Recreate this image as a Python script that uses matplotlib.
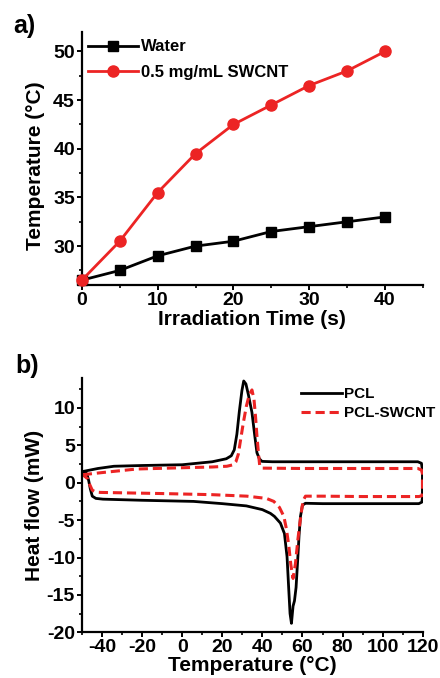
import numpy as np
import matplotlib
matplotlib.use("Agg")
import matplotlib.pyplot as plt
from matplotlib.ticker import MultipleLocator

plt.rcParams['font.family'] = ['Liberation Sans', 'DejaVu Sans']
plt.rcParams['font.weight'] = 'bold'
plt.rcParams['axes.unicode_minus'] = False

# panel a) photothermal heating
time_s = [0, 5, 10, 15, 20, 25, 30, 35, 40]
temp_water = [26.5, 27.5, 29.0, 30.0, 30.5, 31.5, 32.0, 32.5, 33.0]
temp_swcnt = [26.5, 30.5, 35.5, 39.5, 42.5, 44.5, 46.5, 48.0, 50.0]

# panel b) DSC loops (temperature, heat flow)
pcl_T = [-49.5, -42, -34, -20, 0, 15, 22, 24.5, 26, 27.3, 28.5, 29.8, 30.7, 31.8, 33, 34.8, 36.2, 37.3, 38.5, 39.8, 45,
         80, 117.5, 119.3, 119.8, 119.8, 119.5, 118, 90, 70, 61.5, 60, 59, 58.3, 57.7, 56.8, 56, 55.3, 54.5, 53.8, 53.2,
         52.3, 51, 49, 46, 44, 40, 32, 20, 5.7, -20, -39.5, -43, -44.8, -45.8, -46.6, -47.5, -49.5]
pcl_Q = [1.5, 1.9, 2.2, 2.3, 2.4, 2.8, 3.2, 3.6, 4.4, 6.5, 9.5, 12.3, 13.6, 13.2, 11.8, 9.4, 6.3, 4.0, 3.2, 2.85, 2.8,
         2.8, 2.8, 2.6, 1.7, -2.0, -2.6, -2.8, -2.8, -2.8, -2.75, -3.0, -4.5, -7.0, -9.9, -14.0, -15.8, -16.5, -18.8, -17.5, -14.5,
         -9.9, -6.8, -5.4, -4.5, -4.1, -3.6, -3.1, -2.8, -2.5, -2.35, -2.2, -2.1, -1.8, -0.8, 0.3, 1.2, 1.5]

swcnt_T = [-49.5, -40, -22.7, 0, 15, 22.3, 25.5, 26.8, 28, 29, 30.5, 32, 33.5, 34.8, 35.8, 36.6, 37.3, 38.1, 38.7, 40, 60,
           90, 117.5, 119.3, 119.8, 119.8, 119.5, 118, 90, 70, 61.5, 60.5, 59.8, 58.8, 57.7, 56.5, 55.3, 54.2, 53.2, 52, 50.7,
           48.5, 45.7, 42, 32.3, 15, -10, -40.7, -43, -44.8, -46, -47, -49.5]
swcnt_Q = [1.07, 1.35, 1.83, 2.0, 2.1, 2.2, 2.4, 2.8, 3.8, 5.5, 8.0, 10.2, 11.8, 12.4, 11.2, 8.8, 6.2, 3.8, 2.2, 1.95, 1.9,
           1.9, 1.9, 1.7, 1.2, -1.3, -1.75, -1.85, -1.85, -1.8, -1.8, -2.3, -3.2, -5.2, -7.6, -10.8, -12.8, -11.0, -8.5, -6.2, -4.5,
           -3.3, -2.5, -2.1, -1.8, -1.6, -1.45, -1.3, -1.25, -1.0, -0.3, 0.5, 1.07]

red = '#ec2424'

fig = plt.figure(figsize=(4.4, 6.78), dpi=100)
ax1 = fig.add_axes([0.186, 0.5796, 0.775, 0.3732])
ax2 = fig.add_axes([0.186, 0.0674, 0.775, 0.3751])

ax1.plot(time_s, temp_water, color='black', lw=2, marker='s', ms=7, label='Water', clip_on=False, zorder=3)
ax1.plot(time_s, temp_swcnt, color=red, lw=2, marker='o', ms=8, label='0.5 mg/mL SWCNT', clip_on=False, zorder=3)
ax1.set_xlim(0, 45)
ax1.set_ylim(26, 52)
ax1.xaxis.set_major_locator(MultipleLocator(10))
ax1.xaxis.set_minor_locator(MultipleLocator(5))
ax1.yaxis.set_major_locator(MultipleLocator(5))
ax1.yaxis.set_minor_locator(MultipleLocator(2.5))
ax1.set_yticks([30, 35, 40, 45, 50])
ax1.set_xlabel('Irradiation Time (s)', fontsize=15, fontweight='bold', labelpad=1)
ax1.set_ylabel('Temperature (°C)', fontsize=15, fontweight='bold')
ax1.yaxis.set_label_coords(-0.107, 0.47)
ax1.legend(loc='upper left', bbox_to_anchor=(-0.01, 1.01), frameon=False, fontsize=12,
           handlelength=3.0, handletextpad=0.15, labelspacing=0.65, borderaxespad=0.2)

ax2.plot(pcl_T, pcl_Q, color='black', lw=2, label='PCL')
ax2.plot(swcnt_T, swcnt_Q, color=red, lw=2.2, ls=(0, (3, 1.6)), label='PCL-SWCNT')
ax2.set_xlim(-50, 120)
ax2.set_ylim(-20, 14)
ax2.xaxis.set_major_locator(MultipleLocator(20))
ax2.xaxis.set_minor_locator(MultipleLocator(10))
ax2.yaxis.set_major_locator(MultipleLocator(5))
ax2.yaxis.set_minor_locator(MultipleLocator(2.5))
ax2.set_xticks([-40, -20, 0, 20, 40, 60, 80, 100, 120])
ax2.set_xlabel('Temperature (°C)', fontsize=15, fontweight='bold', labelpad=0)
ax2.set_ylabel('Heat flow (mW)', fontsize=15, fontweight='bold')
ax2.yaxis.set_label_coords(-0.11, 0.5)
ax2.legend(loc='upper right', bbox_to_anchor=(1.062, 1.0), frameon=False, fontsize=11,
           handlelength=2.7, handletextpad=0.1, labelspacing=0.35, borderaxespad=0.2)

for ax in (ax1, ax2):
    ax.spines['top'].set_visible(False)
    ax.spines['right'].set_visible(False)
    ax.spines['left'].set_linewidth(1.6)
    ax.spines['bottom'].set_linewidth(1.6)
    ax.tick_params(which='major', direction='out', length=3.5, width=1.4, labelsize=14, pad=1.5)
    ax.tick_params(which='minor', direction='out', length=2, width=1.2)
    for lab in ax.get_xticklabels() + ax.get_yticklabels():
        lab.set_fontweight('bold')

fig.text(0.03, 0.952, 'a)', fontsize=18, fontweight='bold')
fig.text(0.035, 0.45, 'b)', fontsize=18, fontweight='bold')

fig.savefig('out.png', dpi=100)
